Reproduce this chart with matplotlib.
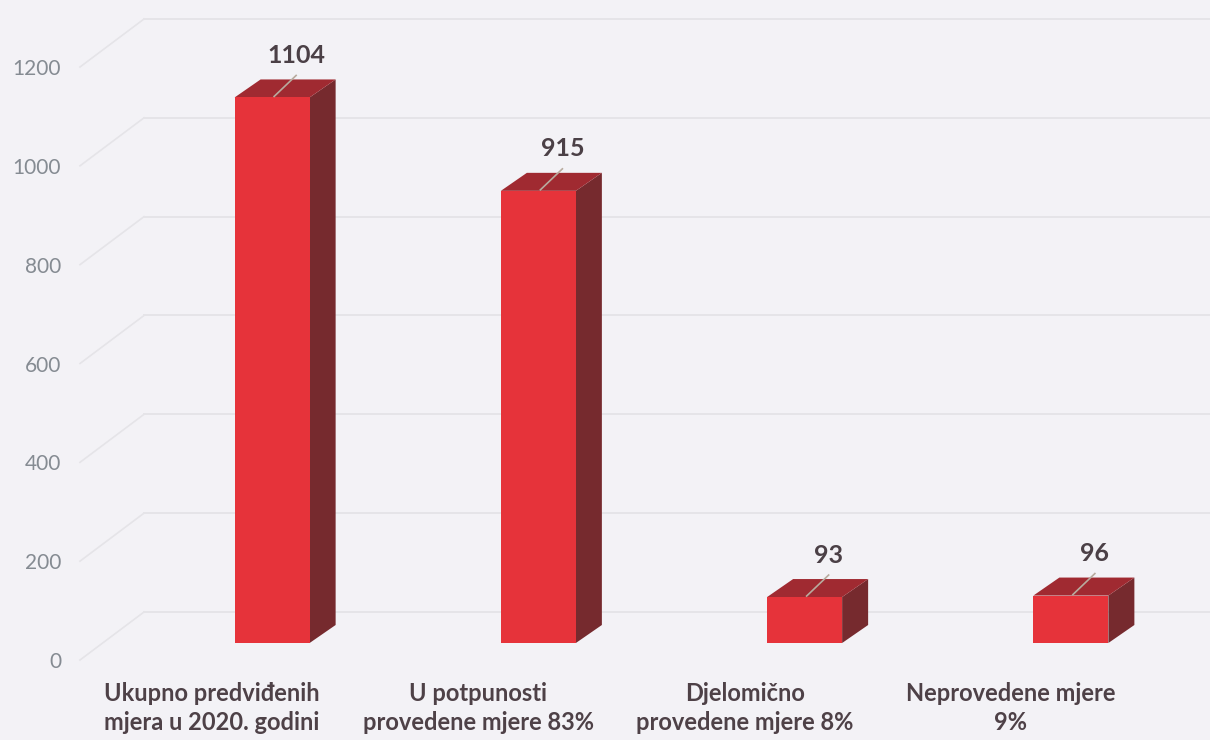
import matplotlib.pyplot as plt
from matplotlib.patches import Polygon

categories = ["Ukupno predviđenih\nmjera u 2020. godini",
              "U potpunosti\nprovedene mjere 83%",
              "Djelomično\nprovedene mjere 8%",
              "Neprovedene mjere\n9%"]
values = [1104, 915, 93, 96]
yticks = [0, 200, 400, 600, 800, 1000, 1200]

W, H = 1210, 740
fig = plt.figure(figsize=(W / 100, H / 100), dpi=100)
bg = "#f3f2f6"
fig.patch.set_facecolor(bg)

# axes placement (pixel geometry)
ax_left, ax_right = 139, 1204
y0_px, y1200_px = 660, 67
ax = fig.add_axes([ax_left / W, (H - y0_px) / H, (ax_right - ax_left) / W, (y0_px - y1200_px) / H])
ax.set_xlim(-0.5, 3.5)
ax.set_ylim(0, 1200)
ax.set_facecolor("none")
for s in ax.spines.values():
    s.set_visible(False)

pxx = (ax_right - ax_left) / 4.0      # px per category unit
pxy = (y0_px - y1200_px) / 1200.0     # px per value unit

# depth geometry (in data units)
wall_dx, wall_dy = 64 / pxx, 48 / pxy
front_x = -0.5 + (80 - ax_left) / pxx
grid_col = "#e5e4e8"
for t in yticks:
    ax.plot([front_x, front_x + wall_dx], [t, t + wall_dy], color=grid_col, lw=1.2, clip_on=False)
    ax.plot([front_x + wall_dx, -0.5 + (W - ax_left) / pxx], [t + wall_dy, t + wall_dy],
            color=grid_col, lw=1.4, clip_on=False)

# y tick labels
ax.set_yticks(yticks)
ax.set_yticklabels([str(t) for t in yticks], color="#858b92", fontsize=15, family="Lato")
ax.tick_params(axis="y", length=0, pad=(ax_left - 61) * 0.72)
ax.set_xticks([])

# bars
bar_w = 75 / pxx
base = 17 / pxy
bdx, bdy = 26 / pxx, 18 / pxy
front_c = "#e6333a"
top_c = "#a02a31"
side_c = "#762a2e"
xs = list(range(len(values)))
ax.bar(xs, values, width=bar_w, bottom=base, color=front_c, zorder=3, clip_on=False)
for x, v in zip(xs, values):
    l, r = x - bar_w / 2, x + bar_w / 2
    t = base + v
    ax.add_patch(Polygon([(r, base), (r + bdx, base + bdy), (r + bdx, t + bdy), (r, t)],
                         closed=True, facecolor=side_c, edgecolor="none", zorder=2, clip_on=False))
    ax.add_patch(Polygon([(l, t), (l + bdx, t + bdy), (r + bdx, t + bdy), (r, t)],
                         closed=True, facecolor=top_c, edgecolor="none", zorder=2, clip_on=False))
    # leader line and value label
    lx = x + 24 / pxx
    ax.plot([x + 2 / pxx, lx], [t + 1 / pxy, t + 22 / pxy], color="#b8ab9e", lw=1.2, zorder=4, clip_on=False)
    ax.text(lx, t + 42 / pxy, str(v), ha="center", va="center", fontsize=18, fontweight="bold",
            color="#4b4046", family="Lato", zorder=5, clip_on=False)

# category labels (two-line block centred at ~708 px)
for x, c in zip(xs, categories):
    ax.text(x - 60 / pxx, -(708 - y0_px) / pxy, c, ha="center", va="center", fontsize=17,
            fontweight="bold", color="#4e4147", family="Lato", linespacing=1.35, clip_on=False)

fig.savefig("out.png", dpi=100, facecolor=bg)
